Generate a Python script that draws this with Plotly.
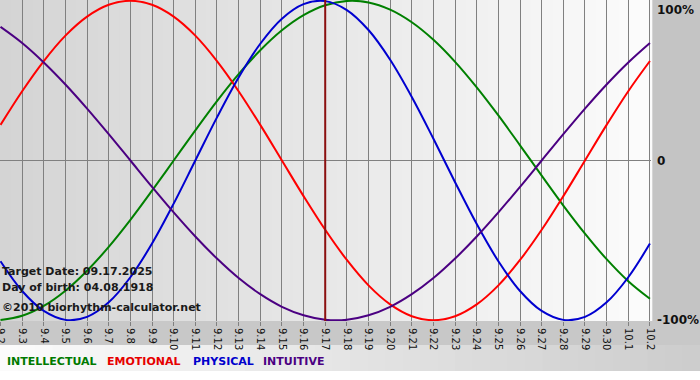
import plotly.graph_objects as go

dates = ["9.2", "9.3", "9.4", "9.5", "9.6", "9.7", "9.8", "9.9", "9.10", "9.11",
         "9.12", "9.13", "9.14", "9.15", "9.16", "9.17", "9.18", "9.19", "9.20", "9.21",
         "9.22", "9.23", "9.24", "9.25", "9.26", "9.27", "9.28", "9.29", "9.30", "10.1", "10.2"]

intellectual = [-99.9, -97.2, -91.0, -81.5, -69.0, -54.1, -37.2, -18.9, 0.0, 18.9,
                37.2, 54.1, 69.0, 81.5, 91.0, 97.2, 99.9, 99.0, 94.5, 86.6,
                75.6, 61.8, 45.8, 28.2, 9.5, -9.5, -28.2, -45.8, -61.8, -75.6, -86.6]
emotional = [22.3, 43.4, 62.3, 78.2, 90.1, 97.5, 100.0, 97.5, 90.1, 78.2,
             62.3, 43.4, 22.3, 0.0, -22.3, -43.4, -62.3, -78.2, -90.1, -97.5,
             -100.0, -97.5, -90.1, -78.2, -62.3, -43.4, -22.3, 0.0, 22.3, 43.4, 62.3]
physical = [-63.1, -81.7, -94.2, -99.8, -97.9, -88.8, -73.1, -52.0, -27.0, 0.0,
            27.0, 52.0, 73.1, 88.8, 97.9, 99.8, 94.2, 81.7, 63.1, 39.8,
            13.6, -13.6, -39.8, -63.1, -81.7, -94.2, -99.8, -97.9, -88.8, -73.1, -52.0]
intuitive = [83.7, 73.6, 61.4, 47.6, 32.5, 16.5, 0.0, -16.5, -32.5, -47.6,
             -61.4, -73.6, -83.7, -91.6, -96.9, -99.7, -99.7, -96.9, -91.6, -83.7,
             -73.6, -61.4, -47.6, -32.5, -16.5, 0.0, 16.5, 32.5, 47.6, 61.4, 73.6]

target_date = "9.17"
y_ticks = [100, 0, -100]
y_labels = ["100%", "0", "-100%"]

series = [
    ("INTELLECTUAL", intellectual, "#008000", "#007a00"),
    ("EMOTIONAL", emotional, "#ff0000", "#e60000"),
    ("PHYSICAL", physical, "#0000d0", "#0000cc"),
    ("INTUITIVE", intuitive, "#4b0082", "#4b0082"),
]

W, H = 700, 380
ML, MR, MT, MB = 0, 49, 0, 59
PW, PH = W - ML - MR, H - MT - MB

def py(px):
    return (PH - px) / PH

fig = go.Figure()
for name, vals, col, _ in series:
    fig.add_trace(go.Scatter(x=dates, y=vals, mode="lines", name=name,
                             line=dict(color=col, width=2, shape="spline", smoothing=1.0),
                             hoverinfo="skip"))

shapes = []
# plot background gradient
n = 60
for i in range(n):
    c = int(212 + (252 - 212) * (i + 0.5) / n)
    shapes.append(dict(type="rect", xref="paper", yref="paper", x0=i / n, x1=(i + 1) / n + 0.002,
                       y0=0, y1=1, fillcolor=f"rgb({c},{c},{c})", line=dict(width=0), layer="below"))
# tick label band
shapes.append(dict(type="rect", xref="paper", yref="paper", x0=0, x1=W / PW, y0=py(345), y1=0,
                   fillcolor="#c8c8c8", line=dict(width=0), layer="below"))
# legend band gradient
m = 40
for i in range(m):
    c = int(252 - (252 - 205) * (i + 0.5) / m)
    shapes.append(dict(type="rect", xref="paper", yref="paper",
                       x0=(W / PW) * i / m, x1=(W / PW) * (i + 1) / m + 0.002,
                       y0=py(371), y1=py(345), fillcolor=f"rgb({c},{c},{c})",
                       line=dict(width=0), layer="below"))
shapes.append(dict(type="rect", xref="paper", yref="paper", x0=0, x1=W / PW, y0=py(381), y1=py(371),
                   fillcolor="#ffffff", line=dict(width=0), layer="below"))
# target date line
ti = dates.index(target_date)
shapes.append(dict(type="line", xref="x", yref="paper", x0=ti, x1=ti, y0=0, y1=1,
                   line=dict(color="#8b1010", width=2), layer="above"))

annotations = []
for t, yv, anc in zip(y_labels, y_ticks, ["top", "middle", "middle"]):
    annotations.append(dict(text=f"<b>{t}</b>", xref="paper", yref="y", x=1, y=yv,
                            xanchor="left", yanchor=anc, xshift=4, showarrow=False,
                            font=dict(family="DejaVu Sans", size=12, color="#111111")))
info = [("Target Date: 09.17.2025", 271), ("Day of birth: 04.08.1918", 287),
        ("©2010 biorhythm-calculator.net", 307)]
for t, ypx in info:
    annotations.append(dict(text=f"<b>{t}</b>", xref="paper", yref="paper", x=2 / PW, y=py(ypx),
                            xanchor="left", yanchor="middle", showarrow=False, xshift=-2,
                            font=dict(family="DejaVu Sans", size=11, color="#1a1a1a")))
leg_x = [7, 107, 193, 263]
for (name, _, _, tcol), lx in zip(series, leg_x):
    annotations.append(dict(text=f"<b>{name}</b>", xref="paper", yref="paper", x=lx / PW, y=py(361),
                            xanchor="left", yanchor="middle", showarrow=False, xshift=-2,
                            font=dict(family="DejaVu Sans", size=11, color=tcol)))

fig.update_layout(
    width=W, height=H, margin=dict(l=ML, r=MR, t=MT, b=MB, autoexpand=False),
    paper_bgcolor="#c4c4c4", plot_bgcolor="rgba(0,0,0,0)",
    showlegend=False, shapes=shapes, annotations=annotations,
    xaxis=dict(type="category", range=[-0.023, 30.05], tickvals=dates, ticktext=dates,
               tickangle=90, ticks="outside", ticklen=4, tickcolor="#808080",
               showgrid=True, gridcolor="#808080", gridwidth=1, zeroline=False,
               showline=False, fixedrange=True, automargin=False,
               tickfont=dict(family="DejaVu Sans", size=10, color="#111111")),
    yaxis=dict(range=[-100.5, 100.5], tickvals=y_ticks, showticklabels=False,
               showgrid=True, gridcolor="#808080", gridwidth=1, zeroline=False,
               showline=False, fixedrange=True, automargin=False),
)

fig.write_html("out.html")
